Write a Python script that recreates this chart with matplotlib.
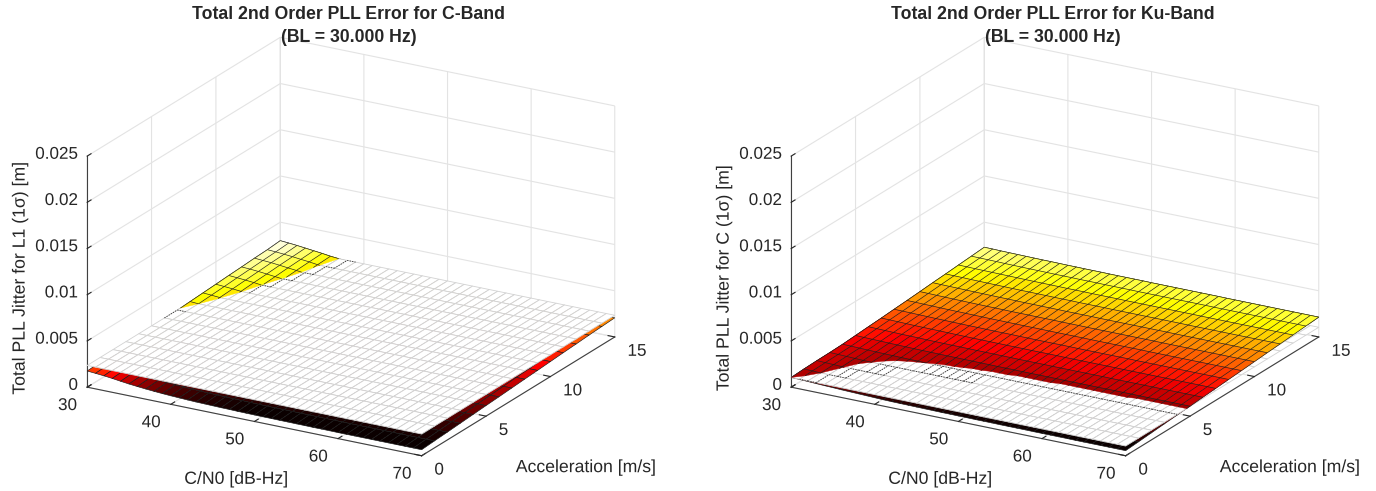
#Imports
import numpy as np
import matplotlib
matplotlib.use('Agg')
import matplotlib.pyplot as plt
from matplotlib.colors import Normalize
from matplotlib.patheffects import Stroke
from mpl_toolkits.mplot3d.art3d import Poly3DCollection, Line3DCollection

plt.rcParams['font.family'] = ['Liberation Sans', 'DejaVu Sans']
plt.rcParams['grid.color'] = '#e3e3e3'
plt.rcParams['grid.linewidth'] = 0.8
plt.rcParams['text.color'] = '#262626'
plt.rcParams['axes.labelcolor'] = '#262626'
plt.rcParams['xtick.color'] = '#262626'
plt.rcParams['ytick.color'] = '#262626'

#Axis values
cn0 = np.arange(30, 71)
accel = np.arange(0, 16)
z_ticks = [0, 0.005, 0.01, 0.015, 0.02, 0.025]
z_tick_labels = ['0', '0.005', '0.01', '0.015', '0.02', '0.025']

#Jitter, in 1e-5 m (rows: acceleration, columns: C/N0)
jitter_c = [
    [175,168,160,150,138,127,118,110,103,97,92,88,84,81,79,77,75,74,72,71,70,69,69,68,68,67,67,66,66,66] + [65]*11,
    [184,177,169,159,147,136,127,119,113,107,102,98,94,91,89,87,85,84,82,81,80,79,79,78,78,77,77,76,76,76] + [75]*11,
    [191,184,176,167,155,144,136,128,121,115,110,106,102,100,98,96,94,93,91,90,89,88,88,87,87,86,86,85,85,85] + [84]*11,
    [200,193,185,176,164,154,145,137,130,125,120,116,112,109,107,106,104,103,101,100,99,98,98,97,97,96,96,95,95,95] + [94]*11,
    [208,202,194,184,173,163,154,147,140,134,130,126,122,119,117,115,113,113,111,110,109,108,108,107,107,106,106,105,105,105] + [104]*11,
    [217,210,203,193,182,172,163,156,149,144,139,135,132,129,127,125,123,122,121,120,119,118,118,117,117,116,116,115,115,115] + [114]*11,
    [224,218,210,201,190,180,172,164,158,152,148,144,140,138,136,134,132,131,129,129,128,127,127,126,126,125,125,124,124,124] + [123]*11,
    [233,226,219,210,199,189,181,174,167,162,157,154,150,148,146,144,142,141,139,138,138,137,137,136,136,135,135,134,134,134] + [133]*11,
    [241,235,228,219,208,198,190,183,177,172,167,164,160,157,156,154,152,151,149,148,147,147,147,146,146,145,145,144,144,144] + [143]*11,
    [249,243,236,227,216,207,199,192,185,180,176,172,169,166,164,163,161,160,158,157,156,156,156,155,155,154,154,153,153,153] + [152]*11,
    [257,251,244,236,225,216,208,201,195,190,185,182,178,176,174,172,171,170,168,167,166,165,165,165,165,164,164,163,163,163] + [162]*11,
    [266,260,253,245,234,225,217,210,204,199,195,192,188,186,184,182,181,180,178,177,176,175,175,175,175,174,174,173,173,173] + [172]*11,
    [273,268,261,252,242,233,226,219,213,208,204,200,197,194,193,191,189,189,187,186,185,184,184,184,184,183,183,182,182,182] + [181]*11,
    [282,276,270,261,251,242,231,224,218,213,209,206,204,203,201,200,199,198,197,196,195,194,194,194,194,193,193,192,192,192] + [191]*11,
    [288,283,276,268,258,249,237,229,223,218,214,211,209,208,207,206,205,204,204,203,202,202,202,201,201,201,200,200,200,200] + [199]*11,
    [300,293,285,275,265,255,243,235,229,225,221,219,217,216,215,214,213,212,211,211,210,210,210,209,209,209,208,208,208,208] + [207]*11,
]

jitter_ku = [
    [105,102,98,94,90,87,83,80,77,74,71,68,66,65,64,63,62,61,60,60,59,59,58,58,58,57,57,57,57,56,56,56,56,56] + [55]*7,
    [112,109,105,101,97,93,90,87,84,81,78,75,74,74,73,72,71,70,69,69,68,68,68,68,68,67,67,67,67,66,66,66,66,66] + [65]*7,
    [116,113,110,106,102,99,96,93,91,89,86,85,84,83,82,82,81,80,80,80,79,79,78,78,78,77,77,77,77,77,77,77,77,77] + [76]*7,
    [118,116,113,110,107,105,102,100,98,97,96,94,94,93,93,92,91,91,90,90,89,89,89,89,89,88,88,88,88,88,88,88,88,88] + [87]*7,
    [122,120,117,115,113,111,110,108,107,106,105,104,103,103,102,101,101,100,100,100,99,99,99,99,99,98,98,98,98,98,98,98,98,98] + [97]*7,
    [131,129,127,125,123,121,120,118,117,116,115,114,114,113,113,112,112,111,111,111,110,110,110,110,110,109,109,109,109,109,109,109,109,109] + [108]*7,
    [140,138,136,134,132,131,130,128,127,126,125,125,124,124,123,123,122,122,121,121,121,121,120,120,120,120,120,120,120] + [119]*12,
    [148,147,145,143,141,140,139,138,137,136,135,134,134,133,133,132,132,132,131,131,131,131,130,130,130,130,130,130,130] + [129]*12,
    [158,156,155,153,152,150,149,148,147,146,146,145,144,144,144,143,143,142,142,142,142,142,141,141,141,141,141,141,141] + [140]*12,
    [167,166,164,163,161,160,159,158,157,156,155,155,154,154,153,153,153,152,152,152,152,152,151,151,151,151,151,151,151] + [150]*12,
    [177,176,174,173,171,170,169,168,167,167,166,165,165,165,164,164,164,163,163,163,162,162,162,162,162,162,162,162,162] + [161]*12,
    [188,186,185,184,182,181,180,179,178,178,177,176,176,175,175,175,174,174,174,174] + [173]*9 + [172]*12,
    [197,196,195,193,192,191,190,189,188,187,187,186,186,185,185,185,184,184,184,184] + [183]*9 + [182]*12,
    [208,207,205,204,203,202,201,200,199,198,198,197,197,196,196,196,195,195,195,195] + [194]*9 + [193]*12,
    [218,217,216,215,213,212,211,210,210,209,208,208,208,207,207,207,206,206,206,206] + [205]*9 + [204]*12,
    [229,228,226,225,224,223,222,221,221,220,219,219,218,218,218,217,217,217,217,217] + [216]*9 + [215]*12,
]

#Height of the white threshold plane, same units
plane_c = 235
plane_ku = 105

titles = ['Total 2nd Order PLL Error for C-Band\n(BL = 30.000 Hz)',
          'Total 2nd Order PLL Error for Ku-Band\n(BL = 30.000 Hz)']
z_labels = ['Total PLL Jitter for L1 (1σ) [m]', 'Total PLL Jitter for C (1σ) [m]']


def clip_poly(quad, plane):
    #Part of a quad above the plane
    out = []
    for k in range(4):
        p, q = np.array(quad[k]), np.array(quad[(k + 1) % 4])
        if p[2] >= plane:
            out.append(p)
        if (p[2] - plane) * (q[2] - plane) < 0:
            out.append(p + (q - p) * (plane - p[2]) / (q[2] - p[2]))
    return out


def clip_seg(p, q, plane):
    #Part of a mesh line above the plane
    p, q = np.array(p), np.array(q)
    if p[2] < plane and q[2] < plane:
        return None
    if p[2] < plane:
        p = p + (q - p) * (plane - p[2]) / (q[2] - p[2])
    elif q[2] < plane:
        q = p + (q - p) * (plane - p[2]) / (q[2] - p[2])
    return [p, q]


def split_cells(z, plane, norm):
    #Quads of the surface, the whole set and the clipped part above the plane
    cmap = plt.get_cmap('hot')
    quads, colours, above, above_col = [], [], [], []
    for i in range(len(accel) - 1):
        for j in range(len(cn0) - 1):
            quad = [(cn0[j], accel[i], z[i, j]),
                    (cn0[j+1], accel[i], z[i, j+1]),
                    (cn0[j+1], accel[i+1], z[i+1, j+1]),
                    (cn0[j], accel[i+1], z[i+1, j])]
            colour = cmap(norm((z[i, j] + z[i, j+1] + z[i+1, j+1] + z[i+1, j]) / 4))
            quads.append(quad)
            colours.append(colour)
            part = clip_poly(quad, plane)
            if len(part) >= 3:
                above.append(part)
                above_col.append(colour)
    return quads, colours, above, above_col


def split_mesh(z, plane, near):
    #Mesh lines above the plane, and the dashes where the mesh sits just under it
    solid, dashed = [], []
    for i in range(len(accel)):
        for j in range(len(cn0)):
            nodes = [(cn0[j], accel[i], z[i, j])]
            if j + 1 < len(cn0):
                nodes.append((cn0[j+1], accel[i], z[i, j+1]))
            if i + 1 < len(accel):
                nodes.append((cn0[j], accel[i+1], z[i+1, j]))
            for other in nodes[1:]:
                seg = clip_seg(nodes[0], other, plane)
                if seg is not None:
                    solid.append(seg)
                elif plane - min(nodes[0][2], other[2]) < near:
                    dashed.append([(nodes[0][0], nodes[0][1], plane), (other[0], other[1], plane)])
    return solid, dashed


def draw_panel(rect, jitter, plane, clim, near, title, z_label):
    ax = fig.add_axes(rect, projection='3d', proj_type='ortho', computed_zorder=False)
    ax.set_facecolor('none')
    ax.view_init(elev=20.8, azim=-60)
    ax.set_box_aspect((1, 1, 0.64))

    z = np.array(jitter) / 1e5
    plane = plane / 1e5
    norm = Normalize(clim[0], clim[1])
    quads, colours, above, above_col = split_cells(z, plane, norm)
    solid, dashed = split_mesh(z, plane, near / 1e5)

    col = Poly3DCollection(quads, facecolors=colours, edgecolors='#1a1a1a', linewidths=0.45, zorder=1)
    ax.add_collection3d(col, autolim=False)

    xx, yy = np.meshgrid(cn0, accel)
    ax.plot_surface(xx, yy, np.full(xx.shape, plane), color='white', edgecolor='#d2d2d2',
                    linewidth=0.6, shade=False, rstride=1, cstride=1, zorder=2)

    col = Poly3DCollection(above, facecolors=above_col, edgecolors=above_col, linewidths=0.3, zorder=3)
    ax.add_collection3d(col, autolim=False)
    ax.add_collection3d(Line3DCollection(solid, colors='#1a1a1a', linewidths=0.45, zorder=4), autolim=False)
    ax.add_collection3d(Line3DCollection(dashed, colors='#303030', linewidths=0.6,
                                         linestyles=(0, (1.5, 1.5)), zorder=4), autolim=False)

    ax.set_xlim(30, 70, view_margin=0)
    ax.set_ylim(0, 15, view_margin=0)
    ax.set_zlim(0, 0.025, view_margin=0)
    ax.set_xticks([30, 40, 50, 60, 70])
    ax.set_yticks([0, 5, 10, 15])
    ax.set_zticks(z_ticks)
    ax.set_zticklabels(z_tick_labels)

    for axis in (ax.xaxis, ax.yaxis, ax.zaxis):
        axis.set_pane_color((1, 1, 1, 1))
        axis.pane.set_edgecolor('white')
        axis.line.set_color('#404040')
        axis.line.set_linewidth(0.8)
        axis._axinfo['tick']['color'] = '#404040'
        axis._axinfo['tick']['linewidth'] = {True: 0.8, False: 0.6}
        axis._axinfo['tick']['inward_factor'] = 0
        axis._axinfo['tick']['outward_factor'] = 0.25
        axis.set_rotate_label(False)
    ax.zaxis.set_ticks_position('lower')
    ax.zaxis.set_label_position('lower')

    ax.tick_params(axis='both', labelsize=12.3)
    ax.tick_params(axis='x', pad=0)
    ax.tick_params(axis='y', pad=-1.5)
    ax.tick_params(axis='z', pad=-5)
    #Tick labels and axis labels sit a little off in mplot3d, offsets are in points
    plt.setp(ax.get_xticklabels(), ha='right', path_effects=[Stroke(linewidth=0, offset=(-2.2, 1.4))])
    plt.setp(ax.get_yticklabels(), ha='left', path_effects=[Stroke(linewidth=0, offset=(2, 1.5))])
    plt.setp(ax.get_zticklabels(), ha='right', va='bottom', path_effects=[Stroke(linewidth=0, offset=(-1.4, -3.6))])

    ax.set_xlabel('C/N0 [dB-Hz]', fontsize=12.7, labelpad=12)
    ax.set_ylabel('Acceleration [m/s]', fontsize=12.7, labelpad=12)
    ax.set_zlabel(z_label, fontsize=12.7, rotation=90, labelpad=8)
    ax.xaxis.label.set_path_effects([Stroke(linewidth=0, offset=(8, -3.6))])
    ax.yaxis.label.set_path_effects([Stroke(linewidth=0, offset=(12.2, -18.7))])
    ax.zaxis.label.set_path_effects([Stroke(linewidth=0, offset=(2.2, 0))])
    ax.set_title(title, fontsize=12.7, fontweight='bold', x=0.51, y=0.941, pad=0, linespacing=1.42)
    return ax


#Define the figure
W, H = 1376, 491
fig = plt.figure(figsize=(W / 100, H / 100), dpi=100)

size = 582
bottom = -54.4
draw_panel([52.1 / W, bottom / H, size / W, size / H], jitter_c, plane_c,
           (0.00075, 0.0030), 12, titles[0], z_labels[0])
draw_panel([756.1 / W, bottom / H, size / W, size / H], jitter_ku, plane_ku,
           (0.0006, 0.00248), 14, titles[1], z_labels[1])

fig.savefig('out.png', dpi=100)
